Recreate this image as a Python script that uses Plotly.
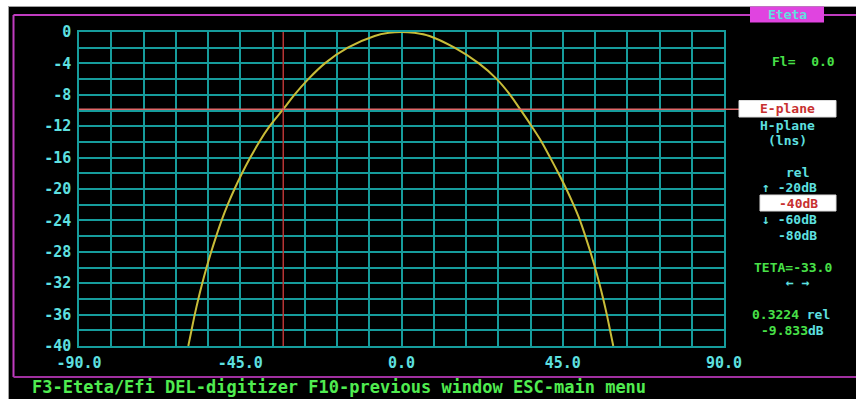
import plotly.graph_objects as go

# Radiation pattern cut (E-plane), relative level in dB versus theta
theta_deg = [-59.5, -58.6, -57.7, -56.7, -55.6, -54.4, -53.1, -51.7, -50.2, -48.5,
             -46.6, -44.5, -42.2, -39.7, -36.8, -33.0, -29.9, -26.0, -21.4, -15.0,
             -7.5, -3.5, 0.0, 3.5, 7.8, 14.8, 21.6, 26.6, 30.3, 33.1,
             36.3, 39.1, 41.5, 43.8, 46.0, 48.0, 49.8, 51.3, 52.7, 54.0,
             55.2, 56.3, 57.3, 58.2, 59.1]
level_db = [-40, -38, -36, -34, -32, -30, -28, -26, -24, -22,
            -20, -18, -16, -14, -12, -9.833, -8, -6, -4, -2,
            -0.5, -0.1, 0.0, -0.1, -0.5, -2, -4, -6, -8, -9.833,
            -12, -14, -16, -18, -20, -22, -24, -26, -28, -30,
            -32, -34, -36, -38, -40]

x_tick_vals = [-90, -45, 0, 45, 90]
x_tick_text = ["-90.0", "-45.0", "0.0", "45.0", "90.0"]
y_tick_vals = [0, -4, -8, -12, -16, -20, -24, -28, -32, -36, -40]
y_tick_text = ["0", "-4", "-8", "-12", "-16", "-20", "-24", "-28", "-32", "-36", "-40"]

# Cursor readout
cursor_theta = -33.0
cursor_rel = 0.3224
cursor_db = -9.833
phi_value = 0.0

W, H = 856, 399
ML, MR, MT, MB = 79, 132, 32, 53
PW, PH = W - ML - MR, H - MT - MB

GRID = "#169c9c"
CYAN = "#5ee0e0"
GREEN = "#48e048"
RED = "#c83030"
MAGENTA = "#c03cc0"
FONT = "DejaVu Sans Mono"
PANEL_SIZE = 13


def px(x):
    return (x - ML) / PW


def py(y):
    return (H - MB - y) / PH


fig = go.Figure()
fig.add_trace(go.Scatter(
    x=theta_deg, y=level_db, mode="lines",
    line=dict(color="#c8bc38", width=2, shape="spline", smoothing=1.0),
    hoverinfo="skip", showlegend=False,
))

shapes = [
    # white page edges around the screen
    dict(type="rect", xref="paper", yref="paper", x0=px(0), x1=px(W), y0=py(0), y1=py(6),
         fillcolor="white", line=dict(width=0), layer="above"),
    dict(type="rect", xref="paper", yref="paper", x0=px(0), x1=px(8), y0=py(0), y1=py(H),
         fillcolor="white", line=dict(width=0), layer="above"),
    dict(type="line", xref="paper", yref="paper", x0=px(8), x1=px(W), y0=py(6.5), y1=py(6.5),
         line=dict(color="#a0a0a0", width=1), layer="above"),
    dict(type="line", xref="paper", yref="paper", x0=px(8.5), x1=px(8.5), y0=py(6), y1=py(H),
         line=dict(color="#a0a0a0", width=1), layer="above"),
    # magenta window frame
    dict(type="line", xref="paper", yref="paper", x0=px(13.5), x1=px(W), y0=py(15), y1=py(15),
         line=dict(color=MAGENTA, width=2)),
    dict(type="line", xref="paper", yref="paper", x0=px(13.5), x1=px(13.5), y0=py(15), y1=py(377),
         line=dict(color=MAGENTA, width=2)),
    dict(type="line", xref="paper", yref="paper", x0=px(13.5), x1=px(W), y0=py(377), y1=py(377),
         line=dict(color="#a030a0", width=2)),
    # window title tab
    dict(type="rect", xref="paper", yref="paper", x0=px(750), x1=px(824), y0=py(6.5), y1=py(22.5),
         fillcolor="#e044e0", line=dict(width=0)),
    # cursor lines
    dict(type="line", xref="x", yref="paper", x0=cursor_theta, x1=cursor_theta, y0=0, y1=1,
         line=dict(color="#b83434", width=1.5)),
    dict(type="line", xref="paper", yref="y", x0=0, x1=px(739), y0=cursor_db, y1=cursor_db,
         line=dict(color="#e06868", width=1.5)),
    # highlighted menu entries
    dict(type="rect", xref="paper", yref="paper", x0=px(739), x1=px(836), y0=py(100.5), y1=py(117),
         fillcolor="white", line=dict(color="#dddddd", width=1)),
    dict(type="rect", xref="paper", yref="paper", x0=px(760), x1=px(836), y0=py(195), y1=py(211),
         fillcolor="white", line=dict(color="#dddddd", width=1)),
]

labels = [
    ("Eteta", 787, 14.5, CYAN, "center"),
    ("Fl=  %.1f" % phi_value, 803, 61.5, GREEN, "center"),
    ("E-plane", 787.5, 109, RED, "center"),
    ("H-plane", 787, 125.5, CYAN, "center"),
    ("(lns)", 787.5, 140.5, CYAN, "center"),
    ("rel", 797.5, 172.5, CYAN, "center"),
    ("↑ -20dB", 789, 187.5, CYAN, "center"),
    ("-40dB", 798, 203.5, RED, "center"),
    ("↓ -60dB", 789, 219, CYAN, "center"),
    ("-80dB", 797, 235, CYAN, "center"),
    ("TETA=%.1f" % cursor_theta, 793, 267, GREEN, "center"),
    ("← →", 797.5, 282, CYAN, "center"),
    ("<span style='color:%s'>%.4f</span> rel" % (GREEN, cursor_rel), 791, 314, CYAN, "center"),
    ("<span style='color:%s'>%.3f</span>dB" % (GREEN, cursor_db), 792.5, 330, CYAN, "center"),
]

annotations = [
    dict(text=t, x=px(x), y=py(y), xref="paper", yref="paper", xanchor=a, yanchor="middle",
         showarrow=False, font=dict(family=FONT, size=PANEL_SIZE, color=c, weight="bold"))
    for t, x, y, c, a in labels
]
# function-key help line at the bottom of the screen
annotations.append(dict(
    text="F3-Eteta/Efi DEL-digitizer F10-previous window ESC-main menu",
    x=px(30), y=py(399), xref="paper", yref="paper", xanchor="left", yanchor="bottom",
    showarrow=False, font=dict(family=FONT, size=17, color="#50ec50", weight="bold"),
))

fig.update_layout(
    width=W, height=H,
    margin=dict(l=ML, r=MR, t=MT, b=MB),
    paper_bgcolor="black", plot_bgcolor="black",
    shapes=shapes, annotations=annotations,
    showlegend=False,
    xaxis=dict(
        range=[-90, 90], tickvals=x_tick_vals, ticktext=x_tick_text,
        showgrid=True, gridcolor=GRID, gridwidth=1.5,
        minor=dict(dtick=9, tick0=0, showgrid=True, gridcolor=GRID, gridwidth=1.5),
        showline=True, mirror=True, linecolor=GRID, linewidth=1.5,
        zeroline=False, ticks="", ticklabelstandoff=2,
        tickfont=dict(family=FONT, size=15, color=CYAN, weight="bold"),
    ),
    yaxis=dict(
        range=[-40, 0], tickvals=y_tick_vals, ticktext=y_tick_text,
        showgrid=True, gridcolor=GRID, gridwidth=1.5,
        minor=dict(dtick=2, tick0=0, showgrid=True, gridcolor=GRID, gridwidth=1.5),
        showline=True, mirror=True, linecolor=GRID, linewidth=1.5,
        zeroline=False, ticks="", ticklabelstandoff=3,
        tickfont=dict(family=FONT, size=15, color=CYAN, weight="bold"),
    ),
)

fig.write_html("out.html")
